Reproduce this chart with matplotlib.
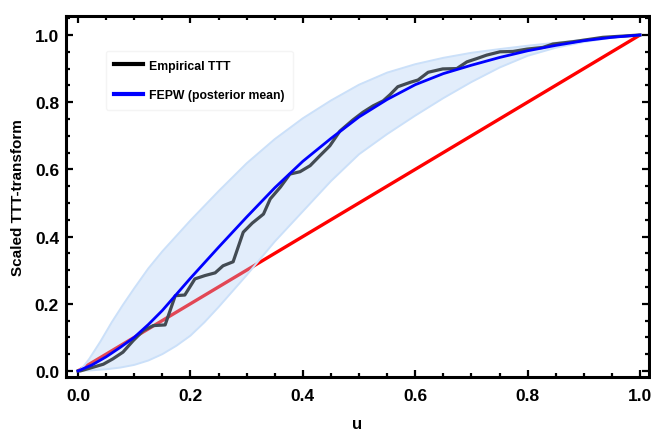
import matplotlib
matplotlib.use("Agg")
import matplotlib.pyplot as plt
from matplotlib.ticker import MultipleLocator
import numpy as np

plt.rcParams['font.family'] = ['Liberation Sans', 'DejaVu Sans']

# Empirical TTT curve
emp_u = [0.0, 0.004, 0.045, 0.062, 0.08, 0.098, 0.116, 0.134, 0.155, 0.173, 0.19,
         0.208, 0.226, 0.244, 0.258, 0.276, 0.294, 0.31, 0.33, 0.342, 0.36, 0.377,
         0.395, 0.413, 0.43, 0.448, 0.466, 0.489, 0.507, 0.525, 0.543, 0.555, 0.569,
         0.591, 0.605, 0.623, 0.649, 0.674, 0.692, 0.71, 0.727, 0.751, 0.774, 0.799,
         0.827, 0.845, 0.881, 0.934, 1.0]
emp_v = [0.0, 0.0, 0.02, 0.036, 0.056, 0.09, 0.12, 0.135, 0.137, 0.224, 0.226,
         0.274, 0.284, 0.292, 0.313, 0.325, 0.413, 0.44, 0.467, 0.512, 0.547, 0.586,
         0.593, 0.611, 0.64, 0.67, 0.714, 0.747, 0.77, 0.789, 0.804, 0.822, 0.846,
         0.859, 0.866, 0.889, 0.899, 0.9, 0.92, 0.93, 0.94, 0.95, 0.951, 0.958,
         0.963, 0.973, 0.98, 0.993, 1.0]

# FEPW posterior mean
fit_u = [0.0, 0.025, 0.05, 0.075, 0.1, 0.125, 0.15, 0.175, 0.2, 0.25, 0.3, 0.35,
         0.4, 0.45, 0.5, 0.55, 0.6, 0.65, 0.7, 0.75, 0.8, 0.85, 0.9, 0.95, 1.0]
fit_v = [0.0, 0.018, 0.042, 0.07, 0.1, 0.138, 0.18, 0.228, 0.276, 0.368, 0.458, 0.545,
         0.624, 0.692, 0.756, 0.808, 0.852, 0.885, 0.91, 0.933, 0.953, 0.969, 0.983,
         0.993, 1.0]

# Credible band
low_u = [0.0, 0.025, 0.05, 0.075, 0.1, 0.125, 0.15, 0.175, 0.2, 0.225, 0.25, 0.3,
         0.35, 0.4, 0.45, 0.5, 0.55, 0.6, 0.65, 0.7, 0.75, 0.8, 0.85, 0.9, 0.95, 1.0]
low_v = [0.0, 0.002, 0.005, 0.01, 0.018, 0.031, 0.05, 0.075, 0.105, 0.145, 0.19, 0.285,
         0.385, 0.475, 0.565, 0.645, 0.705, 0.76, 0.812, 0.86, 0.903, 0.938, 0.962,
         0.979, 0.992, 1.0]
up_u = [0.0, 0.01, 0.02, 0.04, 0.06, 0.08, 0.1, 0.125, 0.15, 0.175, 0.2, 0.25, 0.3, 0.35,
        0.4, 0.45, 0.5, 0.55, 0.6, 0.65, 0.7, 0.75, 0.8, 0.85, 0.9, 0.95, 1.0]
up_v = [0.0, 0.014, 0.036, 0.088, 0.145, 0.197, 0.246, 0.305, 0.356, 0.402, 0.448, 0.535,
        0.618, 0.69, 0.752, 0.805, 0.852, 0.888, 0.913, 0.932, 0.947, 0.958, 0.968,
        0.977, 0.986, 0.994, 1.0]

diag_u = [0.0, 1.0]
diag_v = [0.0, 1.0]

fig = plt.figure(figsize=(6.51, 4.31), dpi=100)
ax = fig.add_axes([66/651, (431-378)/431, (649-66)/651, (378-17)/431])

ax.plot(diag_u, diag_v, color='#ff0000', lw=2.4, zorder=1, solid_capstyle='butt')

grid = np.linspace(0, 1, 400)
lo = np.interp(grid, low_u, low_v)
hi = np.interp(grid, up_u, up_v)
ax.fill_between(grid, lo, hi, facecolor='#accef6', alpha=0.35, edgecolor='none', zorder=2)
ax.plot(low_u, low_v, color='#cbe0f9', lw=1.4, zorder=2)
ax.plot(up_u, up_v, color='#cbe0f9', lw=1.4, zorder=2)

ax.plot(emp_u, emp_v, color='#434b53', lw=2.3, zorder=3, label='Empirical TTT')
ax.plot(fit_u, fit_v, color='#0000ff', lw=2.0, zorder=4, label='FEPW (posterior mean)')

ax.set_xlim(-0.0214, 1.016)
ax.set_ylim(-0.018, 1.0565)

ax.xaxis.set_major_locator(MultipleLocator(0.2))
ax.xaxis.set_minor_locator(MultipleLocator(0.05))
ax.yaxis.set_major_locator(MultipleLocator(0.2))
ax.yaxis.set_minor_locator(MultipleLocator(0.05))
ax.tick_params(which='both', direction='in', top=True, right=True, width=1.6)
ax.tick_params(which='major', length=5)
ax.tick_params(which='minor', length=3)
ax.tick_params(axis='x', which='major', pad=8)
ax.tick_params(axis='y', which='major', pad=5)
for s in ax.spines.values():
    s.set_linewidth(2.2)

ax.set_xticklabels([f'{t:.1f}' for t in ax.get_xticks()], fontsize=12.5, fontweight='bold')
ax.set_yticklabels([f'{t:.1f}' for t in ax.get_yticks()], fontsize=12.5, fontweight='bold')

ax.set_xlabel('u', fontsize=12, fontweight='bold', labelpad=9)
ax.set_ylabel('Scaled TTT-transform', fontsize=11, fontweight='bold', labelpad=7)

leg = ax.legend(loc='upper left', bbox_to_anchor=(0.058, 0.92),
                prop={'weight': 'bold', 'size': 8.8}, frameon=True, fancybox=True,
                edgecolor='#f2f2f2', handlelength=2.3, handletextpad=0.5,
                labelspacing=1.45, borderpad=0.7)
for h in leg.get_lines():
    h.set_linewidth(3)
leg.get_lines()[0].set_color('black')

fig.savefig('out.png', dpi=100)
